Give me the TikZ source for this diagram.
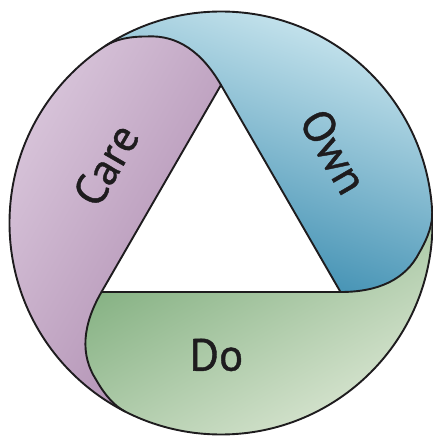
\documentclass[tikz,border=0pt]{standalone}
\usepackage{fontspec}
\setmainfont{PT Sans}
\newfontfamily\lblfont{PT Sans}[FakeBold=0.9]
\definecolor{purpleLight}{RGB}{220,202,222}
\definecolor{purpleDark}{RGB}{174,140,176}
\definecolor{blueLight}{RGB}{205,232,240}
\definecolor{blueMid}{RGB}{105,176,203}
\definecolor{blueDark}{RGB}{52,136,173}
\definecolor{greenLight}{RGB}{226,235,218}
\definecolor{greenDark}{RGB}{126,173,124}
\definecolor{inkc}{RGB}{30,28,30}
\tikzset{
  outline/.style={draw=inkc, line width=1.9pt, line join=round, line cap=round},
  lbl/.style={font=\lblfont\fontsize{45}{52}\selectfont, text=inkc, inner sep=0pt},
}
\begin{document}
\begin{tikzpicture}[x=1pt,y=1pt]
\useasboundingbox (-221pt,-216pt) rectangle (212pt,223pt);
% named points
\coordinate (T) at (90:138pt);
\coordinate (L) at (210:138pt);
\coordinate (R) at (330:138pt);
% purple region (Care)
\shade[top color=purpleLight, bottom color=purpleDark, shading angle=60]
  (L) -- (T) .. controls (96.4:172.4pt) and (103.1:193.1pt) .. (111.5:200.5pt)
  .. controls (116.2:208pt) and (119.9:211.7pt) .. (123:211.5pt)
  arc[start angle=123, end angle=243, radius=211.5pt]
  .. controls (239.9:211.7pt) and (236.2:208pt) .. (231.5:200.5pt)
  .. controls (223.1:193.1pt) and (216.4:172.4pt) .. (L) -- cycle;
% blue region (Own)
\shade[top color=blueLight, middle color=blueMid, bottom color=blueDark, shading angle=-20]
  (T) -- (R) .. controls (336.4:172.4pt) and (343.1:193.1pt) .. (351.5:200.5pt)
  .. controls (356.2:208pt) and (359.9:211.7pt) .. (363:211.5pt)
  arc[start angle=363, end angle=483, radius=211.5pt]
  .. controls (119.9:211.7pt) and (116.2:208pt) .. (111.5:200.5pt)
  .. controls (103.1:193.1pt) and (96.4:172.4pt) .. (T) -- cycle;
% green region (Do)
\shade[top color=greenDark, bottom color=greenLight, shading angle=30]
  (R) -- (L) .. controls (216.4:172.4pt) and (223.1:193.1pt) .. (231.5:200.5pt)
  .. controls (236.2:208pt) and (239.9:211.7pt) .. (243:211.5pt)
  arc[start angle=243, end angle=363, radius=211.5pt]
  .. controls (359.9:211.7pt) and (356.2:208pt) .. (351.5:200.5pt)
  .. controls (343.1:193.1pt) and (336.4:172.4pt) .. (R) -- cycle;
% outlines
\draw[outline] (0,0) circle[radius=211.5pt];
\draw[outline] (T) -- (L) -- (R) -- cycle;
\draw[outline] (T) .. controls (96.4:172.4pt) and (103.1:193.1pt) .. (111.5:200.5pt)
  .. controls (116.2:208pt) and (119.9:211.7pt) .. (123:211.5pt);
\draw[outline] (L) .. controls (216.4:172.4pt) and (223.1:193.1pt) .. (231.5:200.5pt)
  .. controls (236.2:208pt) and (239.9:211.7pt) .. (243:211.5pt);
\draw[outline] (R) .. controls (336.4:172.4pt) and (343.1:193.1pt) .. (351.5:200.5pt)
  .. controls (356.2:208pt) and (359.9:211.7pt) .. (363:211.5pt);
% labels
\node[lbl, rotate=60] (care) at (153.2:129pt) {Care};
\node[lbl, rotate=-60] (own) at (32.3:133.7pt) {Own};
\node[lbl] (do) at (268:132pt) {Do};
\end{tikzpicture}
\end{document}
